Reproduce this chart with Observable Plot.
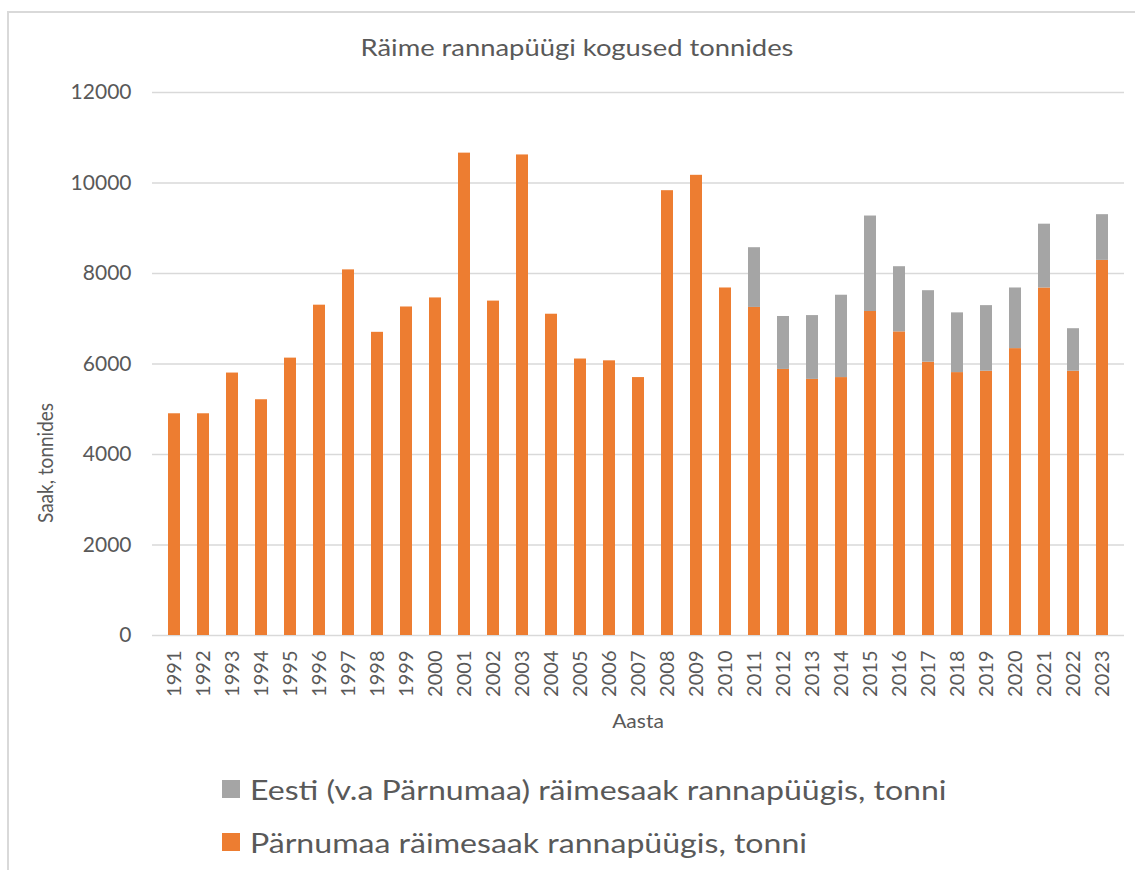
<!DOCTYPE html>
<html><head><meta charset="utf-8">
<script src="https://cdn.jsdelivr.net/npm/d3@7"></script>
<script src="https://cdn.jsdelivr.net/npm/@observablehq/plot@0.6"></script>
<style>
body{margin:0;background:#fff;font-family:Lato,"Open Sans",sans-serif;color:#595959}
#wrap{position:relative;width:1135px;height:870px;overflow:hidden;background:#fff}
#frame{position:absolute;left:7px;top:11px;width:2000px;height:2000px;border-left:2px solid #d9d9d9;border-top:2px solid #d9d9d9;box-sizing:border-box}
#chart{position:absolute;left:0;top:0}
.t{position:absolute;white-space:nowrap;color:#595959}
#title{left:577px;top:47px;transform:translate(-50%,-50%) scaleX(1.19);font-size:23px}
#ylab{left:45px;top:463px;transform:translate(-50%,-50%) rotate(-90deg) scaleY(1.12);font-size:19px}
#xlab{left:638px;top:720px;transform:translate(-50%,-50%) scaleX(1.05);font-size:20px}
.sw{position:absolute;width:18px;height:18px}
.lt{position:absolute;white-space:nowrap;font-size:27px;color:#595959;transform:translateY(-50%) scaleX(1.188);transform-origin:0 50%}
</style>
</head><body>
<div id="wrap">
 <div id="frame"></div>
 <div id="chart"></div>
 <div class="t" id="title"></div>
 <div class="t" id="ylab"></div>
 <div class="t" id="xlab"></div>
 <div id="legend"></div>
</div>
<script>
const titleText = "Räime rannapüügi kogused tonnides";
const yLabel = "Saak, tonnides";
const xLabel = "Aasta";
const seriesE = "Eesti (v.a Pärnumaa) räimesaak rannapüügis, tonni";
const seriesP = "Pärnumaa räimesaak rannapüügis, tonni";
const years = ["1991","1992","1993","1994","1995","1996","1997","1998","1999","2000",
  "2001","2002","2003","2004","2005","2006","2007","2008","2009","2010",
  "2011","2012","2013","2014","2015","2016","2017","2018","2019","2020","2021","2022","2023"];
const parnumaa = [4900,4900,5800,5210,6130,7300,8080,6700,7260,7460,
  10660,7390,10620,7100,6110,6070,5700,9830,10170,7680,
  7250,5880,5660,5700,7160,6710,6040,5810,5840,6340,7680,5840,8290];
const eesti = [null,null,null,null,null,null,null,null,null,null,
  null,null,null,null,null,null,null,null,null,null,
  1320,1170,1410,1820,2110,1440,1580,1320,1450,1340,1410,940,1010];
const yTicks = [0,2000,4000,6000,8000,10000,12000];
const colorP = "#ED7D31", colorE = "#A5A5A5";

const rows = [];
years.forEach((yr,i)=>{
  rows.push({year:yr, series:seriesP, value:parnumaa[i]});
  if (eesti[i] != null) rows.push({year:yr, series:seriesE, value:eesti[i]});
});

const chart = Plot.plot({
  width:1135, height:870,
  marginTop:92, marginBottom:235, marginLeft:152, marginRight:11,
  style:{fontFamily:'Lato,"Open Sans",sans-serif', fontSize:"20px", color:"#595959", background:"transparent"},
  x:{domain:years, paddingInner:0.57, paddingOuter:0.285, label:null, tickRotate:-90, tickSize:0, tickPadding:15},
  y:{domain:[0,12000], ticks:yTicks, tickFormat:d3.format("d"), label:null, tickSize:0, tickPadding:21},
  color:{domain:[seriesP, seriesE], range:[colorP, colorE]},
  marks:[
    Plot.gridY(yTicks, {stroke:"#d9d9d9", strokeOpacity:1, strokeWidth:1.5}),
    Plot.barY(rows, {x:"year", y:"value", fill:"series", order:[seriesP, seriesE]})
  ]
});
chart.querySelectorAll('[aria-label="y-axis tick label"] text').forEach(t=>t.setAttribute("font-size","21"));
document.getElementById("chart").appendChild(chart);
document.getElementById("title").textContent = titleText;
document.getElementById("ylab").textContent = yLabel;
document.getElementById("xlab").textContent = xLabel;

const legend = document.getElementById("legend");
[[seriesE, colorE, 789],[seriesP, colorP, 842]].forEach(([name,col,cy])=>{
  const sw = document.createElement("div");
  sw.className = "sw"; sw.style.background = col;
  sw.style.left = "222px"; sw.style.top = (cy-9)+"px";
  legend.appendChild(sw);
  const t = document.createElement("div");
  t.className = "lt"; t.textContent = name;
  t.style.left = "250px"; t.style.top = cy+"px";
  legend.appendChild(t);
});
</script>
</body></html>
